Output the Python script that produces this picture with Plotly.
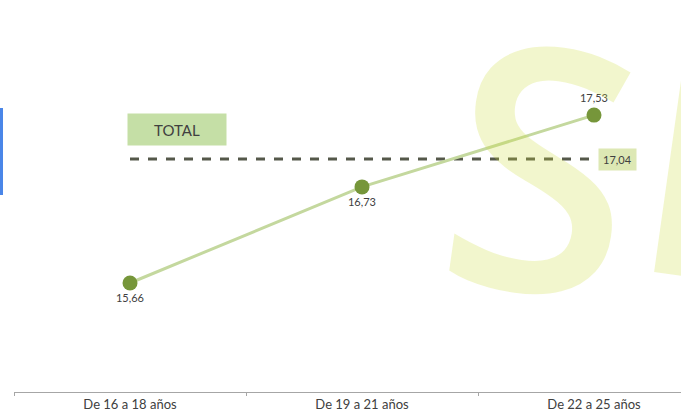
import plotly.graph_objects as go

categories = ["De 16 a 18 años", "De 19 a 21 años", "De 22 a 25 años"]
values = [15.66, 16.73, 17.53]
total_value = 17.04
total_label = "TOTAL"
label_positions = ["bottom center", "bottom center", "top center"]

FONT = "Lato, 'Open Sans', sans-serif"

fig = go.Figure()

# Watermark letters
fig.add_annotation(
    text="S", xref="paper", yref="paper", x=(542 - 14) / 667, y=(392 - 160) / 372,
    xanchor="center", yanchor="middle", showarrow=False, textangle=8,
    font=dict(family="Open Sans", size=340, weight=600, color="rgba(205,222,60,0.26)"),
)
fig.add_annotation(
    text="E", xref="paper", yref="paper", x=(735 - 14) / 667, y=(392 - 150) / 372,
    xanchor="center", yanchor="middle", showarrow=False, textangle=8,
    font=dict(family="Open Sans", size=340, weight=600, color="rgba(205,222,60,0.26)"),
)

# Total dashed line
fig.add_trace(go.Scatter(
    x=[categories[0], categories[-1]], y=[total_value, total_value],
    mode="lines", line=dict(color="#55584a", width=3, dash="dash"),
    hoverinfo="skip", showlegend=False,
))

# Main series
fig.add_trace(go.Scatter(
    x=categories, y=values, mode="lines+markers+text",
    line=dict(color="#c4d89e", width=3),
    marker=dict(color="#76963a", size=15),
    text=values, texttemplate="%{y:.2f}", textposition=label_positions,
    textfont=dict(family=FONT, size=11, color="#404040"),
    showlegend=False,
))

# Total value label
fig.add_annotation(
    x=categories[-1], y=total_value, xref="x", yref="y",
    text=f"{total_value:.2f}".replace(".", ","), showarrow=False,
    xanchor="left", xshift=4, bgcolor="#dde8b4", borderpad=4,
    font=dict(family=FONT, size=11, color="#404040"),
)

# TOTAL box
fig.add_annotation(
    x=categories[0], y=total_value, xref="x", yref="y",
    text=total_label, showarrow=False, xanchor="left", yanchor="bottom",
    xshift=-3, yshift=13, bgcolor="#c5dfa6", width=96, height=29,
    font=dict(family=FONT, size=15, color="#404040"),
)

# Blue side bar
fig.add_shape(type="rect", xref="paper", yref="paper",
              x0=-14/667, x1=-11/667, y0=(392-195)/372, y1=(392-108)/372,
              line=dict(width=0), fillcolor="#4a86e8")

fig.update_layout(
    width=681, height=417,
    margin=dict(l=14, r=0, t=20, b=25),
    paper_bgcolor="white", plot_bgcolor="rgba(0,0,0,0)",
    separators=",.",
    font=dict(family=FONT, color="#404040"),
    xaxis=dict(
        type="category", categoryorder="array", categoryarray=categories,
        range=[-0.5, -0.5 + 667 / 232], automargin=False,
        showline=True, linecolor="#a6a6a6", linewidth=1,
        ticks="outside", tickson="boundaries", ticklen=3, tickcolor="#a6a6a6",
        showgrid=False, zeroline=False,
        tickfont=dict(family=FONT, size=13, color="#404040"),
    ),
    yaxis=dict(range=[14.446, 18.589], visible=False, showgrid=False,
               zeroline=False, automargin=False),
)

fig.write_html("out.html", config={"displayModeBar": False},
               post_script="document.body.style.margin='0';")
